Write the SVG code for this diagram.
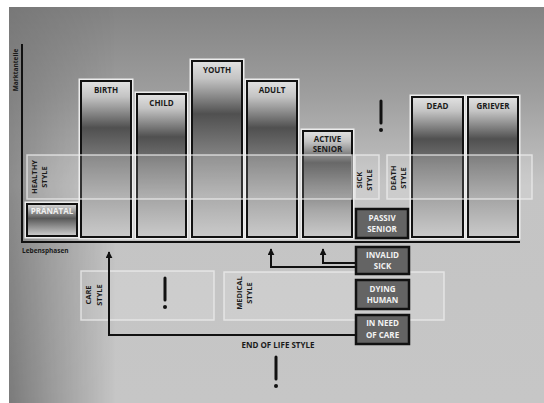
<svg xmlns="http://www.w3.org/2000/svg" width="544" height="403" viewBox="0 0 544 403">
<defs>
<linearGradient id="bgV" x1="0" y1="0" x2="0" y2="1">
<stop offset="0" stop-color="#838383"/>
<stop offset="0.22" stop-color="#9e9e9e"/>
<stop offset="0.45" stop-color="#c4c4c4"/>
<stop offset="1" stop-color="#c6c6c6"/>
</linearGradient>
<linearGradient id="bgL" x1="0" y1="0" x2="1" y2="0">
<stop offset="0" stop-color="#000" stop-opacity="0.38"/>
<stop offset="0.08" stop-color="#000" stop-opacity="0.22"/>
<stop offset="0.2" stop-color="#000" stop-opacity="0"/>
</linearGradient>
<linearGradient id="bgLm" x1="0" y1="0" x2="0" y2="1">
<stop offset="0" stop-color="#fff" stop-opacity="0.2"/>
<stop offset="0.5" stop-color="#fff" stop-opacity="0.8"/>
<stop offset="1" stop-color="#fff" stop-opacity="1"/>
</linearGradient>
<mask id="lm"><rect x="0" y="0" width="544" height="403" fill="url(#bgLm)"/></mask>
<linearGradient id="barG" x1="0" y1="0" x2="0" y2="1">
<stop offset="0" stop-color="#e2e2e2"/>
<stop offset="0.1" stop-color="#c4c4c4"/>
<stop offset="0.3" stop-color="#505050"/>
<stop offset="0.5" stop-color="#7a7a7a"/>
<stop offset="0.75" stop-color="#a8a8a8"/>
<stop offset="1" stop-color="#cacaca"/>
</linearGradient>
<linearGradient id="preG" x1="0" y1="0" x2="0" y2="1">
<stop offset="0" stop-color="#dcdcdc"/>
<stop offset="0.45" stop-color="#585858"/>
<stop offset="1" stop-color="#d0d0d0"/>
</linearGradient>
<marker id="ah" viewBox="0 0 10 10" refX="9" refY="5" markerWidth="7" markerHeight="7" orient="auto" markerUnits="userSpaceOnUse">
<path d="M0,0 L10,5 L0,10 z" fill="#111"/>
</marker>
<style>
text{font-family:"Open Sans","DejaVu Sans",sans-serif;font-weight:bold;fill:#1a1a1a}
.lab{font-size:8px;text-anchor:middle}
.wl{font-size:8px;text-anchor:middle;fill:#f2f2f2}
.sty{font-size:7.5px;text-anchor:middle}
.ax{font-size:6.5px}
.out{fill:none;stroke:#ececec;stroke-width:5}
.bar{fill:url(#barG);stroke:#111;stroke-width:2}
.dk{fill:#646464;stroke:#111;stroke-width:2.5}
.band{fill:#fff;fill-opacity:0.14;stroke:#eeeeee;stroke-opacity:0.75;stroke-width:1.5}
.ln{fill:none;stroke:#111;stroke-width:2}
.ex{stroke:#111;stroke-width:3;stroke-linecap:round}
</style>
</defs>
<rect x="0" y="0" width="544" height="403" fill="#ffffff"/>
<rect x="9" y="7" width="535" height="396" fill="url(#bgV)"/>
<rect x="9" y="7" width="535" height="396" fill="url(#bgL)" mask="url(#lm)"/>

<g id="axes">
<line x1="22" y1="44" x2="22" y2="243" stroke="#111" stroke-width="2"/>
<line x1="21" y1="242" x2="520" y2="242" stroke="#111" stroke-width="2"/>
<text class="ax" transform="translate(18,70) rotate(-90)" text-anchor="middle">Marktanteile</text>
<text class="ax" x="22" y="253">Lebensphasen</text>
</g>

<g id="pranatal">
<rect class="out" x="27" y="204" width="50" height="32"/>
<rect x="27" y="204" width="50" height="32" fill="url(#preG)" stroke="#111" stroke-width="2"/>
<text class="lab" x="52" y="214" fill="#eee" style="fill:#f0f0f0">PRÄNATAL</text>
</g>
<g id="birth">
<rect class="out" x="81" y="81" width="50" height="156"/>
<rect class="bar" x="81" y="81" width="50" height="156"/>
<text class="lab" x="106" y="93">BIRTH</text>
</g>
<g id="child">
<rect class="out" x="137" y="94" width="49" height="143"/>
<rect class="bar" x="137" y="94" width="49" height="143"/>
<text class="lab" x="161.5" y="106">CHILD</text>
</g>
<g id="youth">
<rect class="out" x="192" y="61" width="50" height="176"/>
<rect class="bar" x="192" y="61" width="50" height="176"/>
<text class="lab" x="217" y="73">YOUTH</text>
</g>
<g id="adult">
<rect class="out" x="247" y="81" width="50" height="156"/>
<rect class="bar" x="247" y="81" width="50" height="156"/>
<text class="lab" x="272" y="93">ADULT</text>
</g>
<g id="active-senior">
<rect class="out" x="303" y="131" width="49" height="106"/>
<rect class="bar" x="303" y="131" width="49" height="106"/>
<text class="lab" x="327.5" y="142">ACTIVE</text>
<text class="lab" x="327.5" y="152">SENIOR</text>
</g>
<g id="dead">
<rect class="out" x="412" y="97" width="51" height="140"/>
<rect class="bar" x="412" y="97" width="51" height="140"/>
<text class="lab" x="437.5" y="109">DEAD</text>
</g>
<g id="griever">
<rect class="out" x="468" y="97" width="50" height="140"/>
<rect class="bar" x="468" y="97" width="50" height="140"/>
<text class="lab" x="493" y="109">GRIEVER</text>
</g>

<g id="healthy-style">
<rect class="band" x="27" y="155" width="325" height="44"/>
<text class="sty" transform="translate(37,177) rotate(-90)">HEALTHY</text>
<text class="sty" transform="translate(47,177) rotate(-90)">STYLE</text>
</g>
<g id="sick-style">
<rect class="band" x="355" y="155" width="24" height="44"/>
<text class="sty" transform="translate(362,180) rotate(-90)">SICK</text>
<text class="sty" transform="translate(372,180) rotate(-90)">STYLE</text>
</g>
<g id="death-style">
<rect class="band" x="387" y="155" width="145" height="44"/>
<text class="sty" transform="translate(396,178) rotate(-90)">DEATH</text>
<text class="sty" transform="translate(406,178) rotate(-90)">STYLE</text>
</g>
<g id="care-style">
<rect class="band" x="81" y="271" width="133" height="49"/>
<text class="sty" transform="translate(91,295) rotate(-90)">CARE</text>
<text class="sty" transform="translate(102,295) rotate(-90)">STYLE</text>
</g>
<g id="medical-style">
<rect class="band" x="224" y="272" width="220" height="48"/>
<text class="sty" transform="translate(242,293) rotate(-90)">MEDICAL</text>
<text class="sty" transform="translate(252,293) rotate(-90)">STYLE</text>
</g>

<g id="passiv-senior">
<rect class="dk" x="356" y="209" width="52" height="29"/>
<text class="wl" x="382" y="221">PASSIV</text>
<text class="wl" x="382" y="232">SENIOR</text>
</g>
<g id="invalid-sick">
<rect class="dk" x="356" y="247" width="53" height="27"/>
<text class="wl" x="382.5" y="258">INVALID</text>
<text class="wl" x="382.5" y="269">SICK</text>
</g>
<g id="dying-human">
<rect class="dk" x="356" y="280" width="53" height="29"/>
<text class="wl" x="382.5" y="292">DYING</text>
<text class="wl" x="382.5" y="303">HUMAN</text>
</g>
<g id="in-need-of-care">
<rect class="dk" x="356" y="315" width="53" height="29"/>
<text class="wl" x="382.5" y="326">IN NEED</text>
<text class="wl" x="382.5" y="338">OF CARE</text>
</g>

<g id="connectors">
<polyline class="ln" points="356,263 323,263 323,249" marker-end="url(#ah)"/>
<polyline class="ln" points="356,267 271,267 271,249" marker-end="url(#ah)"/>
<polyline class="ln" points="356,335 109,335 109,252" marker-end="url(#ah)"/>
</g>

<g id="end-of-life-style">
<text class="lab" x="278" y="348">END OF LIFE STYLE</text>
</g>

<g id="exclamations">
<line class="ex" x1="381" y1="101" x2="381" y2="123"/>
<circle cx="381" cy="130" r="2" fill="#111"/>
<line class="ex" x1="165" y1="278" x2="165" y2="300"/>
<circle cx="165" cy="307" r="2" fill="#111"/>
<line class="ex" x1="276" y1="357" x2="276" y2="379"/>
<circle cx="276" cy="386" r="2" fill="#111"/>
</g>
</svg>
